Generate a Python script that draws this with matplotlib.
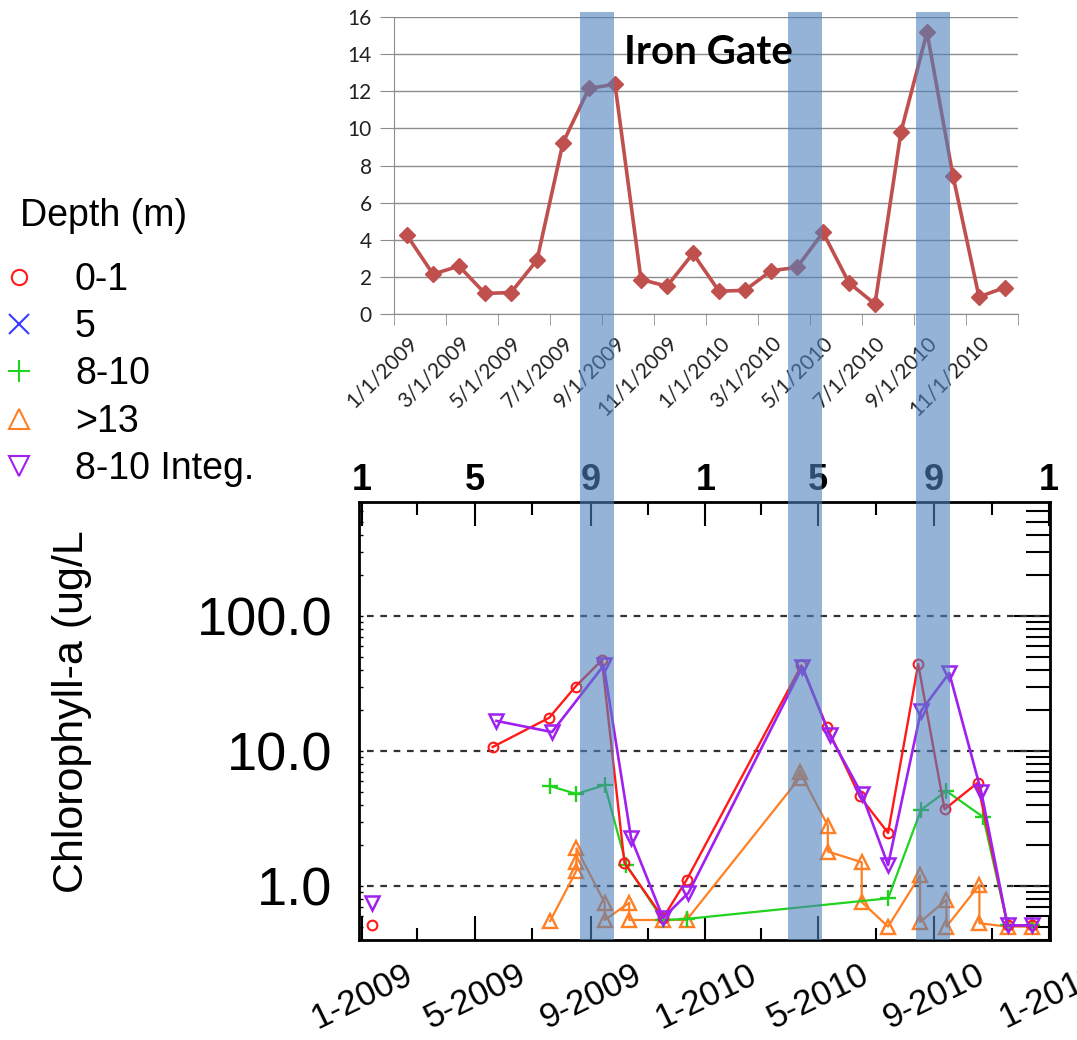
import numpy as np
import matplotlib
matplotlib.use("Agg")
import matplotlib.pyplot as plt
import matplotlib.dates as mdates
import matplotlib.ticker as mticker
from matplotlib.lines import Line2D
from matplotlib.patches import Rectangle
from matplotlib.transforms import blended_transform_factory

# --- top panel: monthly chlorophyll at Iron Gate (Excel style) ---
top_months = ["1/1/2009", "2/1/2009", "3/1/2009", "4/1/2009", "5/1/2009", "6/1/2009",
              "7/1/2009", "8/1/2009", "9/1/2009", "10/1/2009", "11/1/2009", "12/1/2009",
              "1/1/2010", "2/1/2010", "3/1/2010", "4/1/2010", "5/1/2010", "6/1/2010",
              "7/1/2010", "8/1/2010", "9/1/2010", "10/1/2010", "11/1/2010", "12/1/2010"]
top_chl = [4.25, 2.17, 2.6, 1.13, 1.18, 2.92, 9.23, 12.15, 12.37, 1.88, 1.52, 3.28,
           1.25, 1.3, 2.35, 2.53, 4.41, 1.7, 0.56, 9.82, 15.16, 7.44, 0.95, 1.45]

# --- bottom panel: chlorophyll-a by depth (nan = break in the line) ---
red_dates = ["2009-01-12", "2009-03-01", "2009-05-20", "2009-07-19", "2009-08-16", "2009-09-13",
             "2009-10-07", "2009-11-17", "2009-12-12", "2010-04-13", "2010-05-10", "2010-06-14",
             "2010-07-14", "2010-08-15", "2010-09-12", "2010-10-17", "2010-11-18", "2010-12-14"]
red_vals = [0.51, np.nan, 10.7, 17.6, 30.0, 47.0, 1.48, 0.58, 1.11, 43.0, 15.0, 4.6,
            2.47, 44.0, 3.7, 5.8, 0.51, 0.51]

purple_dates = ["2009-01-12", "2009-03-01", "2009-05-24", "2009-07-22", "2009-09-15", "2009-10-14",
                "2009-11-17", "2009-12-14", "2010-04-14", "2010-05-13", "2010-06-16", "2010-07-14",
                "2010-08-18", "2010-09-17", "2010-10-21", "2010-11-18", "2010-12-14"]
purple_vals = [0.75, np.nan, 16.7, 13.8, 43.0, 2.27, 0.58, 0.89, 42.0, 13.1, 4.8, 1.43,
               19.8, 37.8, 4.97, 0.51, 0.51]

green_dates = ["2009-07-20", "2009-08-17", "2009-09-16", "2009-10-09", "2009-11-17", "2009-12-12",
               "2010-07-14", "2010-08-18", "2010-09-14", "2010-10-23", "2010-11-18", "2010-12-14"]
green_vals = [5.5, 4.8, 5.6, 1.43, 0.56, 0.57, 0.81, 3.66, 5.05, 3.24, 0.51, 0.51]

orange_dates = ["2009-07-20", "2009-08-17", "2009-08-17", "2009-08-17", "2009-09-16", "2009-09-16",
                "2009-10-12", "2009-10-12", "2009-11-17", "2009-12-12", "2010-04-11", "2010-04-11",
                "2010-05-11", "2010-05-11", "2010-06-16", "2010-06-16", "2010-07-14", "2010-08-17",
                "2010-08-17", "2010-09-14", "2010-09-14", "2010-10-19", "2010-10-19", "2010-11-18",
                "2010-12-14"]
orange_vals = [0.55, 1.3, 1.5, 1.9, 0.75, 0.56, 0.75, 0.56, 0.56, 0.56, 6.3, 7.0,
               2.8, 1.8, 1.5, 0.76, 0.5, 1.2, 0.54, 0.79, 0.5, 1.02, 0.53, 0.5, 0.5]

bloom_windows = [("2009-08-21", "2009-09-26"), ("2010-03-30", "2010-05-05"),
                 ("2010-08-13", "2010-09-18")]

legend_labels = ["0-1", "5", "8-10", ">13", "8-10 Integ."]

W, H = 1077, 1040


def fx(px):
    return px / W


def fy(py):
    return 1 - py / H


fig = plt.figure(figsize=(W / 100, H / 100), dpi=100)

# ---------------- top chart ----------------
gray = "#8c8c8c"
ax1 = fig.add_axes([fx(394), fy(314.5), fx(1018) - fx(394), fy(16.7) - fy(314.5)])
idx = np.arange(len(top_chl))
ax1.plot(idx, top_chl, color="#c0504d", lw=2.6, marker="D", ms=8, mec="#c0504d", zorder=3)
ax1.set_xlim(-0.5, len(top_chl) - 0.5)
ax1.set_ylim(0, 16)
ax1.set_yticks(range(0, 17, 2))
ax1.set_xticks(idx[::2], [top_months[i] for i in idx[::2]])
ax1.set_xticks(np.arange(-0.5, len(top_chl), 2), minor=True)
for lab in ax1.get_xticklabels():
    lab.set_rotation(45)
    lab.set_ha("right")
    lab.set_rotation_mode("anchor")
ax1.tick_params(axis="x", which="major", length=0, pad=13, labelsize=15,
                labelfontfamily="Lato", labelcolor="#222222")
ax1.tick_params(axis="x", which="minor", length=8, color=gray)
ax1.tick_params(axis="y", length=10, color=gray, pad=6, labelsize=15,
                labelfontfamily="Lato", labelcolor="#222222")
ax1.grid(axis="y", color=gray, lw=1)
ax1.set_axisbelow(True)
for s in ["top", "right"]:
    ax1.spines[s].set_visible(False)
ax1.spines["left"].set_color(gray)
ax1.spines["bottom"].set_color(gray)

fig.text(fx(708), fy(52), "Iron Gate", fontsize=29, fontweight="bold", family="Lato",
         ha="center", va="center", zorder=12)

# ---------------- bottom chart ----------------
plt.rcParams["font.family"] = ["Liberation Sans", "DejaVu Sans"]
ax2 = fig.add_axes([fx(359), fy(940), fx(1050) - fx(359), fy(502) - fy(940)])
ax2.set_yscale("log")
ax2.set_ylim(0.398, 698)
ax2.set_xlim(np.datetime64("2008-12-29"), np.datetime64("2011-01-02"))

for v in [1, 10, 100]:
    ax2.axhline(v, xmin=0.012, color="#333333", lw=1.6, ls=(0, (3, 3)), zorder=1)

d = lambda lst: np.array(lst, dtype="datetime64[D]")
ax2.plot(d(orange_dates), orange_vals, color="#ff7f24", lw=1.6, marker="^", ms=10,
         mfc="none", mew=1.7, zorder=2)
ax2.plot(d(green_dates), green_vals, color="#1fd31f", lw=1.6, marker="+", ms=11,
         mew=1.7, zorder=3)
ax2.plot(d(red_dates), red_vals, color="#ff1a1a", lw=1.7, marker="o", ms=7,
         mfc="none", mew=1.5, zorder=4)
ax2.plot(d(purple_dates), purple_vals, color="#a020f0", lw=1.9, marker="v", ms=10,
         mfc="none", mew=1.8, zorder=5)

ax2.xaxis.set_major_locator(mdates.MonthLocator(bymonth=[1, 5, 9]))
ax2.xaxis.set_minor_locator(mdates.MonthLocator(bymonth=[3, 7, 11]))
ax2.xaxis.set_major_formatter(mticker.FuncFormatter(
    lambda v, p: f"{mdates.num2date(v).month}-{mdates.num2date(v).year}"))
ax2.tick_params(axis="x", which="major", direction="in", length=17, width=1.5,
                pad=13, labelsize=25, labelrotation=26)
ax2.tick_params(axis="x", which="minor", direction="in", length=9, width=1.5)

ax2.yaxis.set_major_formatter(mticker.FuncFormatter(lambda v, p: f"{v:.1f}"))
ax2.yaxis.set_minor_formatter(mticker.NullFormatter())
ax2.tick_params(axis="y", which="both", direction="in", length=3, width=1, pad=19,
                labelsize=39)
for s in ax2.spines.values():
    s.set_linewidth(2)

top = ax2.secondary_xaxis("top")
top.xaxis.set_major_locator(mdates.MonthLocator(bymonth=[1, 5, 9]))
top.xaxis.set_minor_locator(mdates.MonthLocator(bymonth=[3, 7, 11]))
top.xaxis.set_major_formatter(mticker.FuncFormatter(lambda v, p: str(mdates.num2date(v).month)))
top.tick_params(which="major", direction="in", length=17, width=1.5, pad=3, labelsize=26)
top.tick_params(which="minor", direction="in", length=9, width=1.5)
plt.setp(top.get_xticklabels(), fontweight="bold")

ry = ax2.secondary_yaxis("right")
ry.yaxis.set_major_formatter(mticker.NullFormatter())
ry.yaxis.set_minor_formatter(mticker.NullFormatter())
ry.tick_params(which="major", direction="in", length=26, width=1.5)
ry.tick_params(which="minor", direction="in", length=17, width=1.5)

fig.text(fx(72), fy(712), "Chlorophyll-a (ug/L", rotation=90, fontsize=31,
         ha="center", va="center")

# legend on the left
fig.text(fx(20), fy(216), "Depth (m)", fontsize=27, ha="left", va="center")
handles = [
    Line2D([], [], ls="none", marker="o", ms=11, mfc="none", mec="#ff1a1a", mew=1.5),
    Line2D([], [], ls="none", marker="x", ms=14, mec="#3b3bff", mew=1.5),
    Line2D([], [], ls="none", marker="+", ms=16, mec="#1fd31f", mew=1.5),
    Line2D([], [], ls="none", marker="^", ms=14, mfc="none", mec="#ff7f24", mew=1.5),
    Line2D([], [], ls="none", marker="v", ms=14, mfc="none", mec="#a020f0", mew=1.5),
]
fig.legend(handles, legend_labels, loc="upper left", bbox_to_anchor=(0, fy(262)),
           frameon=False, prop={"family": "Liberation Sans", "size": 27},
           handlelength=1.0, handletextpad=1.0, labelspacing=0.30,
           borderpad=0, borderaxespad=0)

# bloom windows spanning both panels
band_tf = blended_transform_factory(ax2.transData, fig.transFigure)
for start, end in bloom_windows:
    x0 = mdates.date2num(np.datetime64(start))
    x1 = mdates.date2num(np.datetime64(end))
    fig.add_artist(Rectangle((x0, fy(940)), x1 - x0, fy(12) - fy(940), transform=band_tf,
                             facecolor="#4f81bd", alpha=0.6, lw=0, zorder=10))

fig.savefig("out.png", dpi=100)
